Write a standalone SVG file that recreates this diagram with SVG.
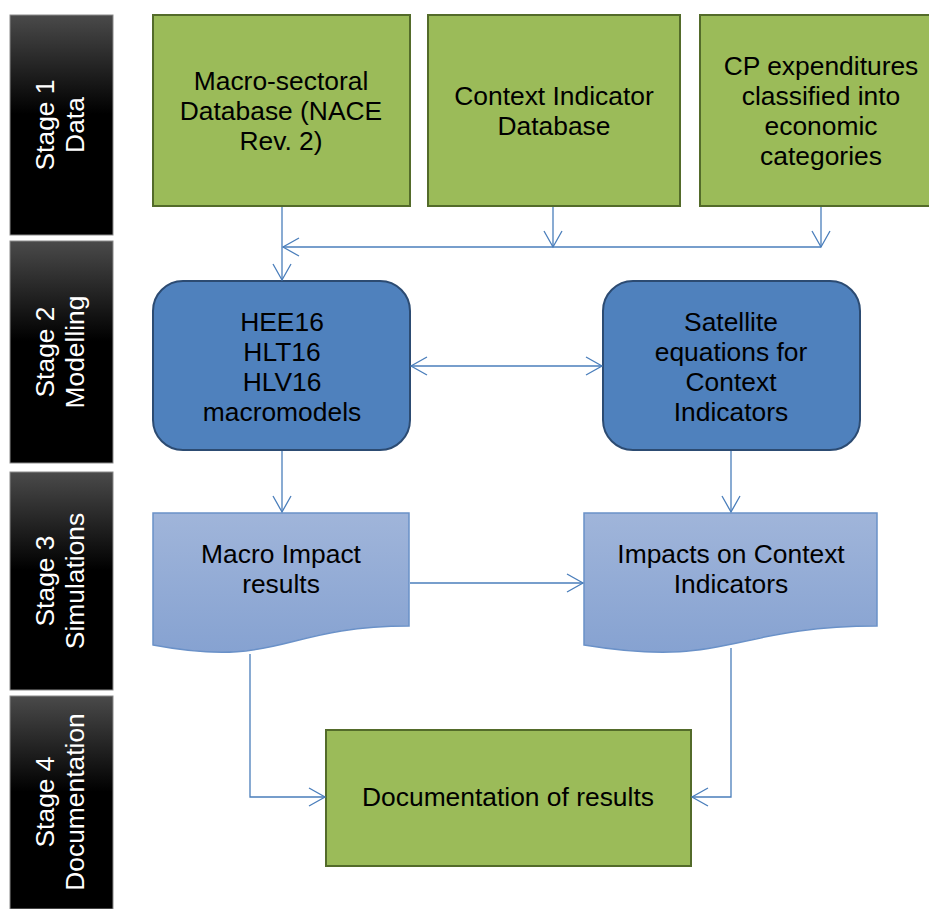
<svg xmlns="http://www.w3.org/2000/svg" width="929" height="909" viewBox="0 0 929 909">
<defs>
<linearGradient id="stageG" x1="0" y1="0" x2="0" y2="1">
<stop offset="0" stop-color="#4a4a4a"/>
<stop offset="0.45" stop-color="#000"/>
<stop offset="1" stop-color="#000"/>
</linearGradient>
<linearGradient id="docG" x1="0" y1="0" x2="0" y2="1">
<stop offset="0" stop-color="#a0b5da"/>
<stop offset="1" stop-color="#86a2d1"/>
</linearGradient>
<marker id="arr" markerUnits="userSpaceOnUse" viewBox="0 0 18 20" markerWidth="18" markerHeight="20" refX="16.5" refY="10" orient="auto-start-reverse" overflow="visible">
<path d="M0.5,1 L16.5,10 L0.5,19" fill="none" stroke="#4a7ebb" stroke-width="1.3"/>
</marker>
</defs>
<style>
.stage{fill:url(#stageG);stroke:#8a8a8a;stroke-width:1}
.st{font-family:"Liberation Sans",Arial,sans-serif;font-size:26.4px;fill:#fff;text-anchor:middle}
.green{fill:#9bbb59;stroke:#536b2a;stroke-width:2}
.blue{fill:#4f81bd;stroke:#2c4b72;stroke-width:2}
.doc{fill:url(#docG);stroke:#6a91c8;stroke-width:1.5}
.t{font-family:"Liberation Sans",Arial,sans-serif;font-size:26.4px;fill:#000;text-anchor:middle}
.c{fill:none;stroke:#4a7ebb;stroke-width:1.3}
</style>

<g id="stage1">
<rect class="stage" x="10" y="15" width="103" height="220"/>
<g transform="translate(61.5,125) rotate(-90)"><text class="st" x="0" y="-8">Stage 1</text><text class="st" x="0" y="22">Data</text></g>
</g>
<g id="stage2">
<rect class="stage" x="10" y="241" width="103" height="222"/>
<g transform="translate(61.5,352) rotate(-90)"><text class="st" x="0" y="-8">Stage 2</text><text class="st" x="0" y="22">Modelling</text></g>
</g>
<g id="stage3">
<rect class="stage" x="10" y="472" width="103" height="218"/>
<g transform="translate(61.5,581) rotate(-90)"><text class="st" x="0" y="-8">Stage 3</text><text class="st" x="0" y="22">Simulations</text></g>
</g>
<g id="stage4">
<rect class="stage" x="10" y="696" width="103" height="213"/>
<g transform="translate(61.5,802) rotate(-90)"><text class="st" x="0" y="-8">Stage 4</text><text class="st" x="0" y="22">Documentation</text></g>
</g>

<g id="macroDb">
<rect class="green" x="153" y="15" width="257" height="191"/>
<text class="t" x="281" y="90">Macro-sectoral</text>
<text class="t" x="281" y="120">Database (NACE</text>
<text class="t" x="281" y="150">Rev. 2)</text>
</g>
<g id="contextDb">
<rect class="green" x="428" y="15" width="252" height="191"/>
<text class="t" x="554" y="105">Context Indicator</text>
<text class="t" x="554" y="135">Database</text>
</g>
<g id="cpExp">
<rect class="green" x="700" y="15" width="242" height="191"/>
<text class="t" x="821" y="75">CP expenditures</text>
<text class="t" x="821" y="105">classified into</text>
<text class="t" x="821" y="135">economic</text>
<text class="t" x="821" y="165">categories</text>
</g>

<g id="macromodels">
<rect class="blue" x="153" y="281" width="257" height="169" rx="30" ry="30"/>
<text class="t" x="282" y="331">HEE16</text>
<text class="t" x="282" y="361">HLT16</text>
<text class="t" x="282" y="391">HLV16</text>
<text class="t" x="282" y="421">macromodels</text>
</g>
<g id="satellite">
<rect class="blue" x="603" y="281" width="257" height="169" rx="30" ry="30"/>
<text class="t" x="731" y="331">Satellite</text>
<text class="t" x="731" y="361">equations for</text>
<text class="t" x="731" y="391">Context</text>
<text class="t" x="731" y="421">Indicators</text>
</g>

<g id="macroImpact">
<path class="doc" d="M153,513 H409 V626 C281,626 281,669 153,645 Z"/>
<text class="t" x="281" y="563">Macro Impact</text>
<text class="t" x="281" y="593">results</text>
</g>
<g id="contextImpact">
<path class="doc" d="M584,513 H877 V626 C730,626 730,669 584,645 Z"/>
<text class="t" x="731" y="563">Impacts on Context</text>
<text class="t" x="731" y="593">Indicators</text>
</g>

<g id="documentation">
<rect class="green" x="326" y="730" width="365" height="136"/>
<text class="t" x="508" y="806">Documentation of results</text>
</g>

<g id="connectors">
<path class="c" d="M282,207 V280" marker-end="url(#arr)"/>
<path class="c" d="M553,207 V247" marker-end="url(#arr)"/>
<path class="c" d="M821,207 V247" marker-end="url(#arr)"/>
<path class="c" d="M821,247 H283" marker-end="url(#arr)"/>
<path class="c" d="M411,366 H602" marker-start="url(#arr)" marker-end="url(#arr)"/>
<path class="c" d="M282,451 V512" marker-end="url(#arr)"/>
<path class="c" d="M731,451 V512" marker-end="url(#arr)"/>
<path class="c" d="M410,583 H583" marker-end="url(#arr)"/>
<path class="c" d="M250,654 V797 H325" marker-end="url(#arr)"/>
<path class="c" d="M731,648 V797 H692" marker-end="url(#arr)"/>
</g>
</svg>
